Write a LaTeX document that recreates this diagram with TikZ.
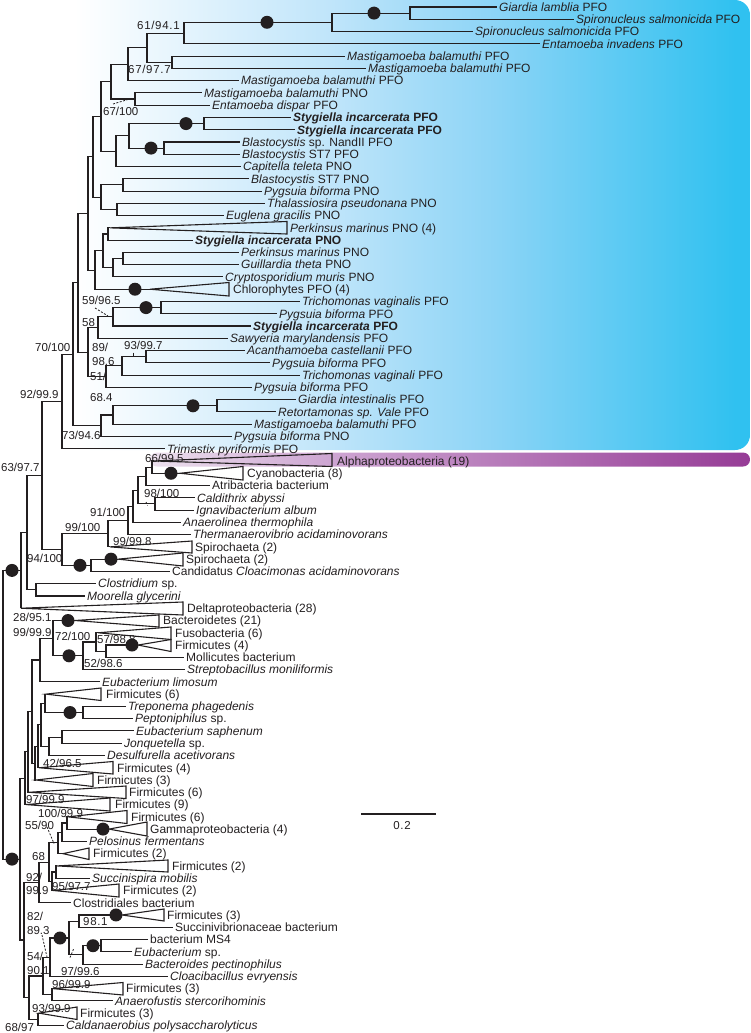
\documentclass[tikz,border=0pt]{standalone}
\usepackage{fontspec}
\setmainfont{Liberation Sans}
\definecolor{ink}{RGB}{35,31,32}
\definecolor{cyA}{RGB}{48,193,240}
\definecolor{cyB}{RGB}{140,212,246}
\definecolor{cyC}{RGB}{192,229,250}
\definecolor{puA}{RGB}{236,224,237}
\definecolor{puB}{RGB}{205,165,210}
\definecolor{puC}{RGB}{150,60,150}
\pgfdeclarehorizontalshading{eukbg}{100bp}{color(0bp)=(white); color(30bp)=(white); color(47bp)=(cyC); color(58bp)=(cyB); color(74bp)=(cyA); color(100bp)=(cyA)}
\pgfdeclarehorizontalshading{alphabg}{100bp}{color(0bp)=(puA); color(25bp)=(puA); color(40bp)=(puB); color(75bp)=(puC); color(100bp)=(puC)}
\newcommand\mktri[6]{\coordinate (#1) at (#2,#3); \coordinate (#1a) at (#4,#5); \coordinate (#1b) at (#4,#6); \draw[brl] (#1) -- (#1a) -- (#1b) -- cycle;}
\begin{document}
\begin{tikzpicture}[x=1pt,y=-1pt,
  brl/.style={line width=1.1pt, draw=ink, line join=miter},
  lab/.style={anchor=west, inner xsep=2pt, inner ysep=0pt, text height=8.6pt, text depth=0pt, font=\fontsize{12}{14}\selectfont, text=ink},
  suplab/.style={anchor=west, inner sep=0pt, text height=7.9pt, text depth=0pt, font=\fontsize{11.5}{13}\selectfont, text=ink},
  spaced/.style={font=\fontsize{11.5}{13}\selectfont\addfontfeature{LetterSpace=6}},
  dotm/.style={circle, fill=ink, inner sep=0pt, minimum size=13pt},
  dashl/.style={draw=ink, line width=0.8pt, dash pattern=on 2pt off 1.5pt}]
\useasboundingbox (0,0) rectangle (750,1033);
% backgrounds
\shade[shading=eukbg, rounded corners=15pt] (0,0) rectangle (750,450);
\shade[shading=alphabg, rounded corners=7pt] (150,452.5) rectangle (750,466.5);
% leaf labels
\node[lab] (L1) at (497,7.00) {\textit{Giardia lamblia} PFO};
\node[lab] (L2) at (574,19.27) {\textit{Spironucleus salmonicida} PFO};
\node[lab] (L3) at (473,31.54) {\textit{Spironucleus salmonicida} PFO};
\node[lab] (L4) at (540,43.81) {\textit{Entamoeba invadens} PFO};
\node[lab] (L5) at (345,56.08) {\textit{Mastigamoeba balamuthi} PFO};
\node[lab] (L6) at (366,68.35) {\textit{Mastigamoeba balamuthi} PFO};
\node[lab] (L7) at (239,80.62) {\textit{Mastigamoeba balamuthi} PFO};
\node[lab] (L8) at (202,92.89) {\textit{Mastigamoeba balamuthi} PNO};
\node[lab] (L9) at (210,105.16) {\textit{Entamoeba dispar} PFO};
\node[lab] (L10) at (291,117.43) {\textbf{\textit{Stygiella incarcerata} PFO}};
\node[lab] (L11) at (295,129.70) {\textbf{\textit{Stygiella incarcerata} PFO}};
\node[lab] (L12) at (240,141.97) {\textit{Blastocystis} sp. NandII PFO};
\node[lab] (L13) at (240,154.24) {\textit{Blastocystis} ST7 PFO};
\node[lab] (L14) at (241,166.51) {\textit{Capitella teleta} PNO};
\node[lab] (L15) at (249,178.78) {\textit{Blastocystis} ST7 PNO};
\node[lab] (L16) at (262,191.05) {\textit{Pygsuia biforma} PNO};
\node[lab] (L17) at (265,203.32) {\textit{Thalassiosira pseudonana} PNO};
\node[lab] (L18) at (224,215.59) {\textit{Euglena gracilis} PNO};
\node[lab] (L19) at (288,227.86) {\textit{Perkinsus marinus} PNO (4)};
\node[lab] (L20) at (193,240.13) {\textbf{\textit{Stygiella incarcerata} PNO}};
\node[lab] (L21) at (239,252.40) {\textit{Perkinsus marinus} PNO};
\node[lab] (L22) at (239,264.67) {\textit{Guillardia theta} PNO};
\node[lab] (L23) at (223,276.94) {\textit{Cryptosporidium muris} PNO};
\node[lab] (L24) at (231,289.21) {Chlorophytes PFO (4)};
\node[lab] (L25) at (300,301.48) {\textit{Trichomonas vaginalis} PFO};
\node[lab] (L26) at (277,313.75) {\textit{Pygsuia biforma} PFO};
\node[lab] (L27) at (251,326.02) {\textbf{\textit{Stygiella incarcerata} PFO}};
\node[lab] (L28) at (228,338.29) {\textit{Sawyeria marylandensis} PFO};
\node[lab] (L29) at (245,350.56) {\textit{Acanthamoeba castellanii} PFO};
\node[lab] (L30) at (270,362.83) {\textit{Pygsuia biforma} PFO};
\node[lab] (L31) at (300,375.10) {\textit{Trichomonas vaginali} PFO};
\node[lab] (L32) at (252,387.37) {\textit{Pygsuia biforma} PFO};
\node[lab] (L33) at (296,399.64) {\textit{Giardia intestinalis} PFO};
\node[lab] (L34) at (276,411.91) {\textit{Retortamonas sp. Vale} PFO};
\node[lab] (L35) at (252,424.18) {\textit{Mastigamoeba balamuthi} PFO};
\node[lab] (L36) at (232,436.45) {\textit{Pygsuia biforma} PNO};
\node[lab] (L37) at (165,448.72) {\textit{Trimastix pyriformis} PFO};
\node[lab] (L38) at (335,460.99) {Alphaproteobacteria (19)};
\node[lab] (L39) at (245,473.26) {Cyanobacteria (8)};
\node[lab] (L40) at (210,485.53) {Atribacteria bacterium};
\node[lab] (L41) at (195,497.80) {\textit{Caldithrix abyssi}};
\node[lab] (L42) at (194,510.07) {\textit{Ignavibacterium album}};
\node[lab] (L43) at (181,522.34) {\textit{Anaerolinea thermophila}};
\node[lab] (L44) at (191,534.61) {\textit{Thermanaerovibrio acidaminovorans}};
\node[lab] (L45) at (193,546.88) {Spirochaeta (2)};
\node[lab] (L46) at (184,559.15) {Spirochaeta (2)};
\node[lab] (L47) at (170,571.42) {Candidatus \textit{Cloacimonas acidaminovorans}};
\node[lab] (L48) at (96,583.69) {\textit{Clostridium} sp.};
\node[lab] (L49) at (85,595.96) {\textit{Moorella glycerini}};
\node[lab] (L50) at (185,608.23) {Deltaproteobacteria (28)};
\node[lab] (L51) at (161,620.50) {Bacteroidetes (21)};
\node[lab] (L52) at (173,632.77) {Fusobacteria (6)};
\node[lab] (L53) at (173,645.04) {Firmicutes (4)};
\node[lab] (L54) at (184,657.31) {Mollicutes bacterium};
\node[lab] (L55) at (185,669.58) {\textit{Streptobacillus moniliformis}};
\node[lab] (L56) at (100,681.85) {\textit{Eubacterium limosum}};
\node[lab] (L57) at (104,694.12) {Firmicutes (6)};
\node[lab] (L58) at (126,706.39) {\textit{Treponema phagedenis}};
\node[lab] (L59) at (133,718.66) {\textit{Peptoniphilus} sp.};
\node[lab] (L60) at (134,730.93) {\textit{Eubacterium saphenum}};
\node[lab] (L61) at (122,743.20) {\textit{Jonquetella} sp.};
\node[lab] (L62) at (105,755.47) {\textit{Desulfurella acetivorans}};
\node[lab] (L63) at (115,767.74) {Firmicutes (4)};
\node[lab] (L64) at (95,780.01) {Firmicutes (3)};
\node[lab] (L65) at (127,792.28) {Firmicutes (6)};
\node[lab] (L66) at (113,804.55) {Firmicutes (9)};
\node[lab] (L67) at (129,816.82) {Firmicutes (6)};
\node[lab] (L68) at (148,829.09) {Gammaproteobacteria (4)};
\node[lab] (L69) at (87,841.36) {\textit{Pelosinus fermentans}};
\node[lab] (L70) at (91,853.63) {Firmicutes (2)};
\node[lab] (L71) at (170,865.90) {Firmicutes (2)};
\node[lab] (L72) at (90,878.17) {\textit{Succinispira mobilis}};
\node[lab] (L73) at (121,890.44) {Firmicutes (2)};
\node[lab] (L74) at (71,902.71) {Clostridiales bacterium};
\node[lab] (L75) at (165,914.98) {Firmicutes (3)};
\node[lab] (L76) at (173,927.25) {Succinivibrionaceae bacterium};
\node[lab] (L77) at (148,939.52) {bacterium MS4};
\node[lab] (L78) at (132,951.79) {\textit{Eubacterium} sp.};
\node[lab] (L79) at (143,964.06) {\textit{Bacteroides pectinophilus}};
\node[lab] (L80) at (168,976.33) {\textit{Cloacibacillus evryensis}};
\node[lab] (L81) at (124,988.60) {Firmicutes (3)};
\node[lab] (L82) at (113,1000.87) {\textit{Anaerofustis stercorihominis}};
\node[lab] (L83) at (78,1013.14) {Firmicutes (3)};
\node[lab] (L84) at (64,1025.41) {\textit{Caldanaerobius polysaccharolyticus}};
% ---- eukaryote internal nodes
\coordinate (N410) at (410,13.1);
\coordinate (N332) at (332,22.3);
\coordinate (N184) at (184,33.1);
\coordinate (N172) at (172,62.2);
\coordinate (N147) at (147,47.7);
\coordinate (N128) at (128,64.2);
\coordinate (N135) at (135,99.0);
\coordinate (N111) at (111,81.6);
\coordinate (N204) at (204,123.6);
\coordinate (N164) at (164,148.1);
\coordinate (N129) at (129,135.9);
\coordinate (N116) at (116,151.2);
\coordinate (N101a) at (101,116.4);
\coordinate (N123b) at (123,184.9);
\coordinate (N117) at (117,209.5);
\coordinate (N101b) at (101,197.2);
\coordinate (N93a) at (93,156.8);
\coordinate (N108) at (108,234.0);
\coordinate (N123) at (123,258.5);
\coordinate (N113) at (113,267.7);
\coordinate (N103) at (103,250.9);
\coordinate (N95) at (95,270.1);
\coordinate (N88) at (88,213.4);
\coordinate (Ntp) at (161,307.6);
\coordinate (Ns) at (113,316.8);
\coordinate (N58) at (98,327.5);
\coordinate (Nap) at (146,356.7);
\coordinate (N93b) at (122,365.9);
\coordinate (N51) at (106,376.6);
\coordinate (N89) at (88,352.1);
\coordinate (X1) at (78,282.7);
\coordinate (N217) at (217,405.8);
\coordinate (N113b) at (113,415.0);
\coordinate (N73) at (101,425.7);
\coordinate (N70) at (73,354.2);
\coordinate (N92e) at (62,401.5);
% ---- bacterial internal nodes
\coordinate (N152) at (152,467.1);
\coordinate (N146c) at (146,476.3);
\coordinate (N155) at (155,503.9);
\coordinate (N138) at (138,490.1);
\coordinate (N133) at (133,506.2);
\coordinate (N91) at (128,520.4);
\coordinate (N99b) at (108,533.6);
\coordinate (Ndot) at (91,565.3);
\coordinate (N94) at (62,549.5);
\coordinate (N63) at (42,475.3);
\coordinate (Nclm) at (36,589.8);
\coordinate (N27) at (27,532.6);
\coordinate (U0) at (21,570.4);
\coordinate (R) at (3,714.8);
\coordinate (Nfm) at (106,651.2);
\coordinate (N57) at (96,642.0);
\coordinate (N52) at (83,655.8);
\coordinate (N53) at (53,638.2);
\coordinate (N99) at (40,660.0);
\coordinate (Ntrep) at (83,712.5);
\coordinate (Nf6t) at (45,703.3);
\coordinate (Nej) at (62,737.1);
\coordinate (Nejd) at (49,746.3);
\coordinate (Ng) at (41,724.8);
\coordinate (N42) at (38,746.3);
\coordinate (Nc) at (35,763.2);
\coordinate (Nd) at (32,711.6);
\coordinate (Ne) at (28,751.9);
\coordinate (N97) at (25,778.2);
\coordinate (N100) at (67,823.0);
\coordinate (Npel) at (62,832.2);
\coordinate (N55) at (58,842.9);
\coordinate (Nfs) at (56,872.0);
\coordinate (N95b) at (52,881.2);
\coordinate (N68) at (49,862.1);
\coordinate (N92b) at (39,882.4);
\coordinate (N98) at (79,921.1);
\coordinate (Nms4) at (101,945.7);
\coordinate (N97b) at (83,954.9);
\coordinate (Nbig) at (69,938.0);
\coordinate (Nclo) at (50,957.2);
\coordinate (N96) at (52,994.7);
\coordinate (Ne43) at (43,976.0);
\coordinate (N93) at (38,1019.3);
\coordinate (Nf) at (29,997.6);
\coordinate (Ngb) at (24,940.0);
\coordinate (L0) at (20,859.1);
% ---- collapsed clades
\mktri{T19}{110}{227.86}{287}{221.5}{234}
\mktri{T24}{150}{289.21}{229}{282.5}{296}
\mktri{T38}{154}{460.99}{332}{453.5}{466.5}
\mktri{T39}{180}{473.26}{243}{466.5}{480}
\mktri{T45}{110}{546.88}{192}{541}{553}
\mktri{T46}{118}{559.15}{183}{553}{566}
\mktri{T50}{21}{608.23}{183}{602}{615}
\mktri{T51}{75}{620.50}{159}{615}{627}
\mktri{T52}{98}{632.77}{171}{627}{639.5}
\mktri{T53}{138}{645.04}{171}{639.5}{651.5}
\mktri{T57}{46}{694.12}{101}{688}{700.5}
\mktri{T63}{39}{767.74}{113}{761.5}{774}
\mktri{T64}{36}{780.01}{93}{773.5}{786.5}
\mktri{T65}{29}{792.28}{126}{786}{798.5}
\mktri{T66}{26}{804.55}{110}{798}{811}
\mktri{T67}{68}{816.82}{127}{810.5}{823.5}
\mktri{T68}{109}{829.09}{147}{822}{836}
\mktri{T70}{63}{853.63}{89}{848}{859.5}
\mktri{T71}{57}{865.90}{168}{860}{872}
\mktri{T73}{53}{890.44}{119}{884}{897}
\mktri{T75}{122}{914.98}{164}{909}{921}
\mktri{T81}{53}{988.60}{123}{982.5}{995}
\mktri{T83}{39}{1013.14}{77}{1007}{1019.5}
% ---- branches: eukaryotes
\draw[brl] (N410) |- (L1.west) (N410) |- (L2.west) (N332) |- (N410) (N332) |- (L3.west)
  (N184) |- (N332) (N184) |- (L4.west) (N172) |- (L5.west) (N172) |- (L6.west)
  (N147) |- (N184) (N147) |- (N172) (N128) |- (N147) (N128) |- (L7.west)
  (N135) |- (L8.west) (N135) |- (L9.west) (N111) |- (N128) (N111) |- (N135)
  (N204) |- (L10.west) (N204) |- (L11.west) (N164) |- (L12.west) (N164) |- (L13.west)
  (N129) |- (N204) (N129) |- (N164) (N116) |- (N129) (N116) |- (L14.west)
  (N101a) |- (N111) (N101a) |- (N116) (N123b) |- (L15.west) (N123b) |- (L16.west)
  (N117) |- (L17.west) (N117) |- (L18.west) (N101b) |- (N123b) (N101b) |- (N117)
  (N93a) |- (N101a) (N93a) |- (N101b) (N108) |- (T19) (N108) |- (L20.west)
  (N123) |- (L21.west) (N123) |- (L22.west) (N113) |- (N123) (N113) |- (L23.west)
  (N103) |- (N108) (N103) |- (N113) (N95) |- (N103) (N95) |- (T24)
  (N88) |- (N93a) (N88) |- (N95) (Ntp) |- (L25.west) (Ntp) |- (L26.west)
  (Ns) |- (Ntp) (Ns) |- (L27.west) (N58) |- (Ns) (N58) |- (L28.west)
  (Nap) |- (L29.west) (Nap) |- (L30.west) (N93b) |- (Nap) (N93b) |- (L31.west)
  (N51) |- (N93b) (N51) |- (L32.west) (N89) |- (N58) (N89) |- (N51)
  (X1) |- (N88) (X1) |- (N89) (N217) |- (L33.west) (N217) |- (L34.west)
  (N113b) |- (N217) (N113b) |- (L35.west) (N73) |- (N113b) (N73) |- (L36.west)
  (N70) |- (X1) (N70) |- (N73) (N92e) |- (N70) (N92e) |- (L37.west);
% ---- branches: bacteria (upper)
\draw[brl] (N63) |- (N92e) (N63) |- (N94) (N152) |- (T38) (N152) |- (T39)
  (N146c) |- (N152) (N146c) |- (L40.west) (N155) |- (L41.west) (N155) |- (L42.west)
  (N138) |- (N146c) (N138) |- (N155) (N133) |- (N138) (N133) |- (L43.west)
  (N91) |- (N133) (N91) |- (L44.west) (N99b) |- (N91) (N99b) |- (T45)
  (Ndot) |- (T46) (Ndot) |- (L47.west) (N94) |- (N99b) (N94) |- (Ndot)
  (Nclm) |- (L48.west) (Nclm) |- (L49.west) (N27) |- (N63) (N27) |- (Nclm)
  (U0) |- (N27) (U0) |- (T50) (R) |- (U0) (R) |- (L0);
% ---- branches: bacteria (lower)
\draw[brl] (Nfm) |- (T53) (Nfm) |- (L54.west) (N57) |- (T52) (N57) |- (Nfm)
  (N52) |- (N57) (N52) |- (L55.west) (N53) |- (T51) (N53) |- (N52)
  (N99) |- (N53) (N99) |- (L56.west) (Ntrep) |- (L58.west) (Ntrep) |- (L59.west)
  (Nf6t) |- (T57) (Nf6t) |- (Ntrep) (Nej) |- (L60.west) (Nej) |- (L61.west)
  (Nejd) |- (Nej) (Nejd) |- (L62.west) (Ng) |- (Nf6t) (Ng) |- (Nejd)
  (N42) |- (Ng) (N42) |- (T63) (Nc) |- (N42) (Nc) |- (T64)
  (Nd) |- (N99) (Nd) |- (Nc) (Ne) |- (Nd) (Ne) |- (T65)
  (N97) |- (Ne) (N97) |- (T66) (L0) |- (N97) (L0) |- (Ngb)
  (N100) |- (T67) (N100) |- (T68) (Npel) |- (N100) (Npel) |- (L69.west)
  (N55) |- (Npel) (N55) |- (T70) (Nfs) |- (T71) (Nfs) |- (L72.west)
  (N95b) |- (Nfs) (N95b) |- (T73) (N68) |- (N55) (N68) |- (N95b)
  (N92b) |- (N68) (N92b) |- (L74.west) (N98) |- (T75) (N98) |- (L76.west)
  (Nms4) |- (L77.west) (Nms4) |- (L78.west) (N97b) |- (Nms4) (N97b) |- (L79.west)
  (Nbig) |- (N98) (Nbig) |- (N97b) (Nclo) |- (Nbig) (Nclo) |- (L80.west)
  (N96) |- (T81) (N96) |- (L82.west) (Ne43) |- (Nclo) (Ne43) |- (N96)
  (N93) |- (T83) (N93) |- (L84.west) (Nf) |- (Ne43) (Nf) |- (N93)
  (Ngb) |- (N92b) (Ngb) |- (Nf);
% ---- support dots
\foreach \px/\py [count=\k] in {374/13.1, 267/22.3, 186/123.6, 151/148.1, 135/289.21, 146/307.6, 193/405.8,
  171/473.26, 111/559.15, 80/565.3, 12/570.4, 12/859.1, 68/620.5, 69/655.8, 132/645.04, 70/712.5,
  103/829.09, 116/914.98, 60/938.0, 93/945.7}
  \node[dotm] (D\k) at (\px,\py) {};
% ---- dashed leaders
\coordinate (d1a) at (113,104); \coordinate (d1b) at (133,98);
\coordinate (d2a) at (95,308); \coordinate (d2b) at (108,316);
\coordinate (d3a) at (146,502); \coordinate (d3b) at (147.5,505.5);
\coordinate (d5a) at (26,568.5); \coordinate (d5b) at (26,574);
\coordinate (d6a) at (47,827); \coordinate (d6b) at (54,843.5);
\coordinate (d7a) at (42,935); \coordinate (d7b) at (47,957);
\coordinate (d8a) at (70,957.5); \coordinate (d8b) at (74,948);
\draw[dashl] (d1a) -- (d1b) (d2a) -- (d2b) (d3a) -- (d3b) (d6a) -- (d6b) (d7a) -- (d7b) (d8a) -- (d8b);
\coordinate (d4a) at (133,352.5); \coordinate (d4b) at (133,357);
\draw[draw=ink, line width=0.8pt] (d4a) -- (d4b) (d5a) -- (d5b);
% ---- support values
\node[suplab, spaced] (S1) at (137,26) {61/94.1};
\node[suplab, spaced] (S2) at (128,70) {67/97.7};
\node[suplab] (S3) at (103,112) {67/100};
\node[suplab] (S4) at (82,301) {59/96.5};
\node[suplab] (S5) at (82,323) {58};
\node[suplab] (S6) at (92,348) {89/};
\node[suplab] (S7) at (92,362) {98.6};
\node[suplab] (S8) at (124,346) {93/99.7};
\node[suplab] (S9) at (35,348) {70/100};
\node[suplab] (S10) at (90,377) {51/};
\node[suplab] (S11) at (90,398) {68.4};
\node[suplab] (S12) at (20,395) {92/99.9};
\node[suplab] (S13) at (62,436) {73/94.6};
\node[suplab] (S14) at (1,468) {63/97.7};
\node[suplab] (S15) at (145,458.5) {66/99.5};
\node[suplab] (S16) at (144,494) {98/100};
\node[suplab] (S17) at (90,513) {91/100};
\node[suplab] (S18) at (65,528) {99/100};
\node[suplab] (S19) at (113,542) {99/99.8};
\node[suplab] (S20) at (27,559) {94/100};
\node[suplab] (S21) at (13,618) {28/95.1};
\node[suplab] (S22) at (13,633) {99/99.9};
\node[suplab] (S23) at (55,637) {72/100};
\node[suplab] (S24) at (97,640) {57/98.8};
\node[suplab] (S25) at (84,664) {52/98.6};
\node[suplab] (S26) at (43,764) {42/96.5};
\node[suplab] (S27) at (26,800) {97/99.9};
\node[suplab] (S28) at (38,814) {100/99.9};
\node[suplab] (S29) at (25,826) {55/90};
\node[suplab] (S30) at (32,857) {68};
\node[suplab] (S31) at (26,878) {92/};
\node[suplab] (S32) at (26,891) {99.9};
\node[suplab] (S33) at (52,887) {95/97.7};
\node[suplab] (S34) at (27,917) {82/};
\node[suplab] (S35) at (27,931) {89.3};
\node[suplab, spaced] (S36) at (83,922) {98.1};
\node[suplab] (S37) at (27,957) {54/};
\node[suplab] (S38) at (27,971) {90.1};
\node[suplab] (S39) at (61,972) {97/99.6};
\node[suplab] (S40) at (52,985) {96/99.9};
\node[suplab] (S41) at (32,1009) {93/99.9};
\node[suplab] (S42) at (5,1028) {68/97};
% ---- scale bar
\coordinate (sb1) at (361,814); \coordinate (sb2) at (436,814);
\draw[brl] (sb1) -- (sb2);
\node[suplab, spaced, anchor=center] (SB) at (402,826) {0.2};
\end{tikzpicture}
\end{document}
